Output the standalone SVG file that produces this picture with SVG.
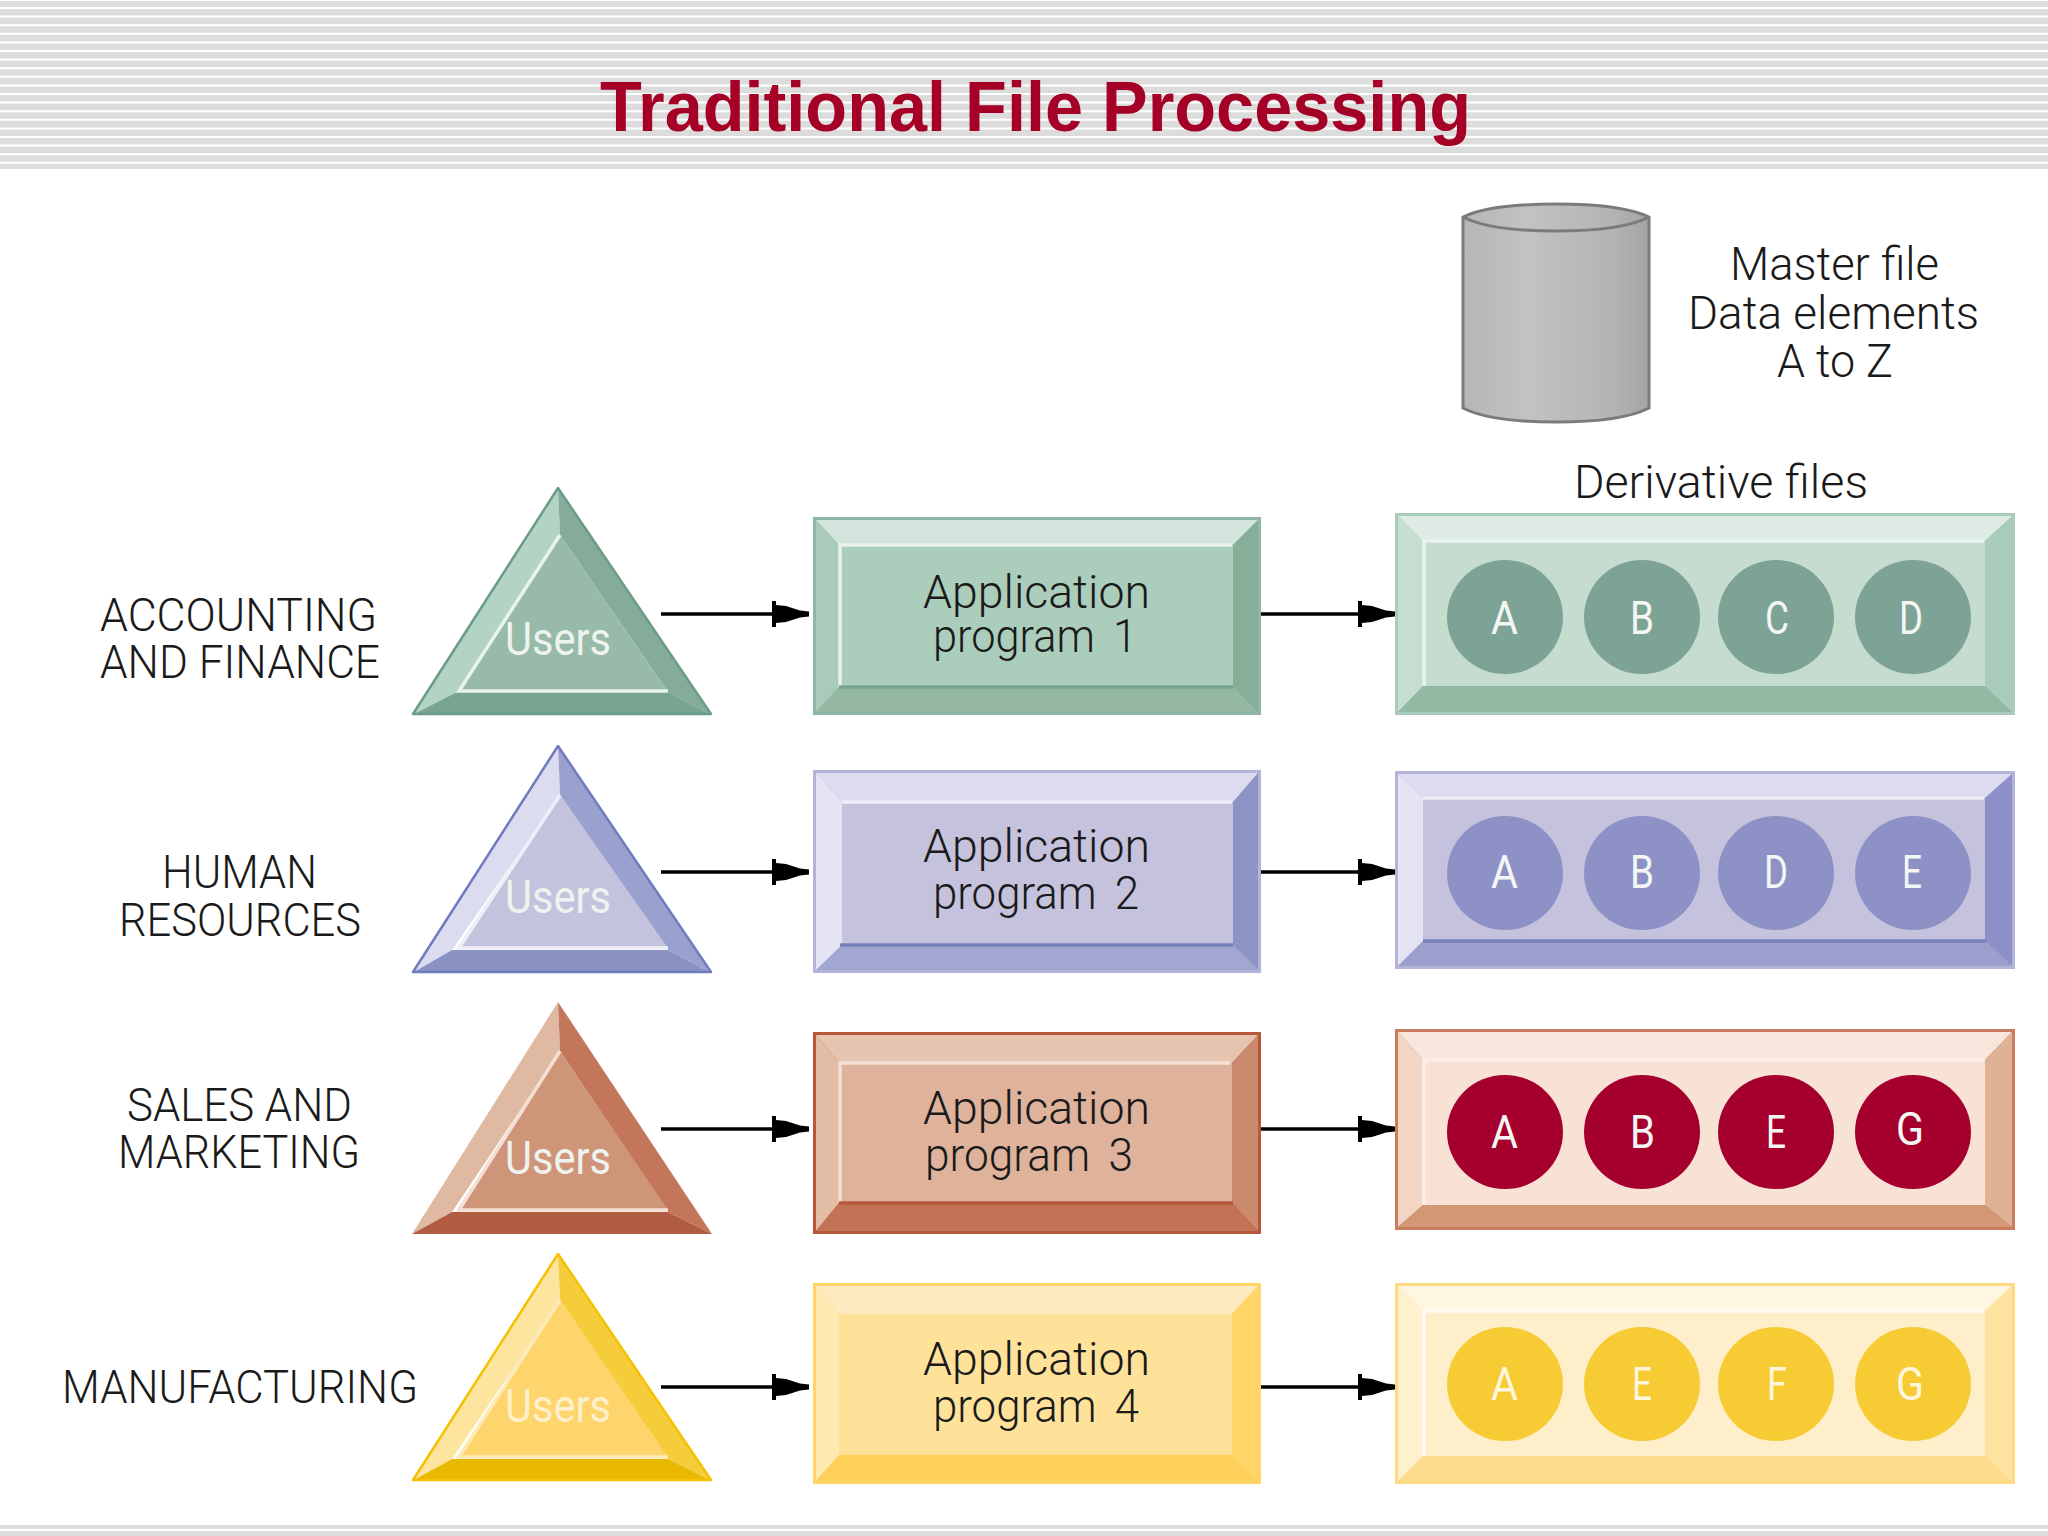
<svg xmlns="http://www.w3.org/2000/svg" width="2048" height="1536" viewBox="0 0 2048 1536">
<style>
text{font-family:"Roboto","Liberation Sans",sans-serif;font-weight:300;font-size:47px;fill:#1a1a1a}
.title{font-family:"Liberation Sans",Arial,sans-serif;font-weight:700;font-size:70px;fill:#a50026}
.u{fill:#eef3ef;font-weight:400}
.c{fill:#f4f6f4;font-weight:400}
.p{word-spacing:8px}
.green .e{fill:#8fb8a4}.green .tp{fill:#d2e4dc}.green .l{fill:#a9cbb9}.green .r{fill:#86ae98}.green .b{fill:#94b8a4}.green .m{fill:#abcdbb}
.green .hi{stroke:#e8f2ee}.green .sh{stroke:#78a490}
.green.f .tp{fill:#dfece5}.green.f .l{fill:#c6ddd0}.green.f .r{fill:#a8ccb9}.green.f .b{fill:#93b9a5}.green.f .m{fill:#c6dccf}.green.f .e{fill:#a8ccb9}.green.f .o{fill:#7ca395}.green.f .sh{stroke:#93b9a5}
.green .tl{fill:#b3d3c5}.green .tr{fill:#84ac98}.green .tb{fill:#78a490}.green .tm{fill:#98baa8}.green .te{stroke:#6c9c88}
.blue .e{fill:#b4b3d9}.blue .tp{fill:#dcdbef}.blue .l{fill:#e4e4f5}.blue .r{fill:#8d93c4}.blue .b{fill:#a1a7d0}.blue .m{fill:#c4c2dd}
.blue .hi{stroke:#eeeef8}.blue .sh{stroke:#7680bd}
.blue.f .b{fill:#9a9fcd}.blue.f .r{fill:#8d90c6}.blue.f .o{fill:#8d91c5}
.blue .tl{fill:#dcdcf0}.blue .tr{fill:#9aa1cf}.blue .tb{fill:#8a92c4}.blue .tm{fill:#c4c3dd}.blue .te{stroke:#6f7cc0}
.brown .e{fill:#b5583c}.brown .tp{fill:#e5c5b0}.brown .l{fill:#e3bca5}.brown .r{fill:#cb8a6d}.brown .b{fill:#c27355}.brown .m{fill:#deb29b}
.brown .hi{stroke:#f5dfd5}.brown .sh{stroke:#b5583c}
.brown.f .e{fill:#c97d5e}.brown.f .tp{fill:#f7e6dc}.brown.f .l{fill:#f3d5c4}.brown.f .r{fill:#dfb295}.brown.f .b{fill:#d39775}.brown.f .m{fill:#f8e2d6}.brown.f .o{fill:#a5002d}.brown.f .hi{stroke:#fbeee7}.brown.f .sh{stroke:#d39775}
.brown .tl{fill:#e0b9a2}.brown .tr{fill:#c4765a}.brown .tb{fill:#b15c40}.brown .tm{fill:#cf9578}.brown .te{stroke:#c4765a}
.yellow .e{fill:#fed566}.yellow .tp{fill:#feeac0}.yellow .l{fill:#fee9b0}.yellow .r{fill:#fed566}.yellow .b{fill:#fed05a}.yellow .m{fill:#fee29a}
.yellow .hi{stroke:#feeab8}.yellow .sh{stroke:#fed05a}
.yellow.f .e{fill:#fedb80}.yellow.f .tp{fill:#fff6e2}.yellow.f .l{fill:#fff0cf}.yellow.f .r{fill:#fee2a0}.yellow.f .b{fill:#fedc8d}.yellow.f .m{fill:#feefca}.yellow.f .o{fill:#f6cb33}.yellow.f .hi{stroke:#fffbf2}.yellow.f .sh{stroke:#fedc8d}
.yellow .tl{fill:#fde5a0}.yellow .tr{fill:#f5cd3a}.yellow .tb{fill:#e9b800}.yellow .tm{fill:#fdd56c}.yellow .te{stroke:#f4c200}
.hi,.sh{fill:none;stroke-width:3.5}
.te{fill:none;stroke-width:2.5;stroke-linejoin:round}
.conn{stroke:#000;stroke-width:3.5;fill:none;marker-end:url(#head)}
</style>
<defs>
<marker id="head" markerUnits="userSpaceOnUse" markerWidth="37" markerHeight="26" viewBox="0 0 37 26" refX="37" refY="13" orient="auto" overflow="visible">
<polygon points="0,0 4,0 4,4 14,5 28,9.5 37,10.5 37,15.5 28,16.5 14,21 4,22 4,26 0,26" fill="#000"/>
</marker>
<linearGradient id="cyl" x1="0" x2="1" y1="0" y2="0">
<stop offset="0" stop-color="#b6b6b6"/><stop offset="0.35" stop-color="#c2c2c2"/><stop offset="0.8" stop-color="#b4b4b4"/><stop offset="1" stop-color="#a4a4a4"/>
</linearGradient>
</defs>
<rect width="2048" height="1536" fill="#fff"/>

<g id="header">
<rect x="0" y="1" width="2048" height="168" fill="#dcdcdc"/>
<path d="M0 8H2048M0 16.6H2048M0 25.2H2048M0 33.8H2048M0 42.4H2048M0 51H2048M0 59.6H2048M0 68.2H2048M0 76.8H2048M0 85.4H2048M0 94H2048M0 102.6H2048M0 111.2H2048M0 119.8H2048M0 128.4H2048M0 137H2048M0 145.6H2048M0 154.2H2048M0 162.8H2048" stroke="#fff" stroke-width="2" fill="none"/>
<rect x="0" y="1525" width="2048" height="11" fill="#dedede"/>
<rect x="0" y="1529" width="2048" height="2" fill="#fff"/>
<text class="title" x="600" y="131" textLength="871" lengthAdjust="spacingAndGlyphs">Traditional File Processing</text>
</g>

<g id="connectors">
<line class="conn" x1="661" y1="614" x2="809" y2="614"/>
<line class="conn" x1="1261" y1="614" x2="1395" y2="614"/>
<line class="conn" x1="661" y1="872" x2="809" y2="872"/>
<line class="conn" x1="1261" y1="872" x2="1395" y2="872"/>
<line class="conn" x1="661" y1="1129" x2="809" y2="1129"/>
<line class="conn" x1="1261" y1="1129" x2="1395" y2="1129"/>
<line class="conn" x1="661" y1="1387" x2="809" y2="1387"/>
<line class="conn" x1="1261" y1="1387" x2="1395" y2="1387"/>
</g>

<g id="master-file">
<path d="M1463 217 V408 Q1490 422 1556 422 Q1622 422 1649 408 V217 Q1622 204 1556 204 Q1490 204 1463 217Z" fill="url(#cyl)" stroke="#7b7b7b" stroke-width="3"/>
<path d="M1463 217 Q1490 231 1556 231 Q1622 231 1649 217" fill="none" stroke="#7b7b7b" stroke-width="3"/>
<text x="1730" y="280" textLength="209" lengthAdjust="spacingAndGlyphs">Master file</text>
<text x="1688" y="329" textLength="291" lengthAdjust="spacingAndGlyphs">Data elements</text>
<text x="1777" y="377" textLength="116" lengthAdjust="spacingAndGlyphs">A to Z</text>
</g>
<text id="derivative-label" x="1574" y="498" textLength="294" lengthAdjust="spacingAndGlyphs">Derivative files</text>

<g id="label-accounting">
<text x="100" y="631" textLength="277" lengthAdjust="spacingAndGlyphs">ACCOUNTING</text>
<text x="100" y="678" textLength="280" lengthAdjust="spacingAndGlyphs">AND FINANCE</text>
</g>
<g id="label-hr">
<text x="162" y="888" textLength="155" lengthAdjust="spacingAndGlyphs">HUMAN</text>
<text x="119" y="936" textLength="242" lengthAdjust="spacingAndGlyphs">RESOURCES</text>
</g>
<g id="label-sales">
<text x="127" y="1121" textLength="225" lengthAdjust="spacingAndGlyphs">SALES AND</text>
<text x="118" y="1168" textLength="242" lengthAdjust="spacingAndGlyphs">MARKETING</text>
</g>
<g id="label-mfg">
<text x="62" y="1403" textLength="356" lengthAdjust="spacingAndGlyphs">MANUFACTURING</text>
</g>

<g id="users-1" class="green">
<polygon class="tl" points="558,487 412,715 457,692 560,535"/>
<polygon class="tr" points="558,487 560,535 668,692 712,715"/>
<polygon class="tb" points="412,715 457,692 668,692 712,715"/>
<polygon class="tm" points="560,535 457,692 668,692"/>
<polyline class="hi" points="560,535 459,691 668,691"/>
<polygon class="te" points="558,488 413,714 711,714"/>
<text class="u" x="505" y="655" textLength="106" lengthAdjust="spacingAndGlyphs">Users</text>
</g>
<g id="users-2" class="blue">
<polygon class="tl" points="558,745 412,973 452,950 560,795"/>
<polygon class="tr" points="558,745 560,795 668,950 712,973"/>
<polygon class="tb" points="412,973 452,950 668,950 712,973"/>
<polygon class="tm" points="560,795 457,948 668,948"/>
<polyline class="hi" points="560,795 459,948 668,948"/>
<polygon class="te" points="558,746 413,972 711,972"/>
<text class="u" x="505" y="913" textLength="106" lengthAdjust="spacingAndGlyphs">Users</text>
</g>
<g id="users-3" class="brown">
<polygon class="tl" points="558,1002 412,1234 452,1212 560,1051"/>
<polygon class="tr" points="558,1002 560,1051 668,1212 712,1234"/>
<polygon class="tb" points="412,1234 452,1212 668,1212 712,1234"/>
<polygon class="tm" points="560,1051 457,1210 668,1210"/>
<polyline class="hi" points="560,1051 459,1210 668,1210"/>
<text class="u" x="505" y="1174" textLength="106" lengthAdjust="spacingAndGlyphs">Users</text>
</g>
<g id="users-4" class="yellow">
<polygon class="tl" points="558,1253 412,1481 452,1459 560,1300"/>
<polygon class="tr" points="558,1253 560,1300 668,1459 712,1481"/>
<polygon class="tb" points="412,1481 452,1459 668,1459 712,1481"/>
<polygon class="tm" points="560,1300 457,1457 668,1457"/>
<polyline class="hi" points="560,1300 459,1457 668,1457"/>
<polygon class="te" points="558,1254 413,1480 711,1480"/>
<text class="u" x="505" y="1422" textLength="106" lengthAdjust="spacingAndGlyphs" style="fill:#fff0cc">Users</text>
</g>

<g id="app-1" class="green">
<rect class="e" x="813" y="517" width="448" height="198"/>
<polygon class="tp" points="816,520 1258,520 1233,545 839,545"/>
<polygon class="l" points="816,520 839,545 839,687 816,712"/>
<polygon class="r" points="1258,520 1258,712 1233,687 1233,545"/>
<polygon class="b" points="816,712 839,687 1233,687 1258,712"/>
<rect class="m" x="839" y="545" width="394" height="142"/>
<polyline class="hi" points="840,687 840,545 1232,545"/>
<line class="sh" x1="839" y1="687" x2="1233" y2="687"/>
<text x="923" y="608" textLength="227" lengthAdjust="spacingAndGlyphs">Application</text>
<text class="p" x="933" y="652" textLength="204" lengthAdjust="spacingAndGlyphs">program 1</text>
</g>
<g id="app-2" class="blue">
<rect class="e" x="813" y="770" width="448" height="203"/>
<polygon class="tp" points="816,773 1258,773 1233,802 842,802"/>
<polygon class="l" points="816,773 842,802 842,945 816,970"/>
<polygon class="r" points="1258,773 1258,970 1233,945 1233,802"/>
<polygon class="b" points="816,970 842,945 1233,945 1258,970"/>
<rect class="m" x="842" y="802" width="391" height="143"/>
<line class="hi" x1="842" y1="802" x2="1232" y2="802"/>
<line class="sh" x1="840" y1="945" x2="1233" y2="945"/>
<text x="923" y="862" textLength="227" lengthAdjust="spacingAndGlyphs">Application</text>
<text class="p" x="933" y="909" textLength="206" lengthAdjust="spacingAndGlyphs">program 2</text>
</g>
<g id="app-3" class="brown">
<rect class="e" x="813" y="1032" width="448" height="202"/>
<polygon class="tp" points="816,1035 1258,1035 1232,1063 839,1063"/>
<polygon class="l" points="816,1035 839,1063 839,1203 816,1231"/>
<polygon class="r" points="1258,1035 1258,1231 1232,1203 1232,1063"/>
<polygon class="b" points="816,1231 839,1203 1232,1203 1258,1231"/>
<rect class="m" x="839" y="1063" width="393" height="140"/>
<polyline class="hi" points="840,1202 840,1063 1230,1063"/>
<line class="sh" x1="839" y1="1203" x2="1233" y2="1203"/>
<text x="923" y="1124" textLength="227" lengthAdjust="spacingAndGlyphs">Application</text>
<text class="p" x="925" y="1171" textLength="208" lengthAdjust="spacingAndGlyphs">program 3</text>
</g>
<g id="app-4" class="yellow">
<rect class="e" x="813" y="1283" width="448" height="201"/>
<polygon class="tp" points="816,1286 1258,1286 1232,1314 839,1314"/>
<polygon class="l" points="816,1286 839,1314 839,1455 816,1481"/>
<polygon class="r" points="1258,1286 1258,1481 1232,1455 1232,1314"/>
<polygon class="b" points="816,1481 839,1455 1232,1455 1258,1481"/>
<rect class="m" x="839" y="1314" width="393" height="141"/>
<text x="923" y="1375" textLength="227" lengthAdjust="spacingAndGlyphs">Application</text>
<text class="p" x="933" y="1422" textLength="206" lengthAdjust="spacingAndGlyphs">program 4</text>
</g>

<g id="files-1" class="green f">
<rect class="e" x="1395" y="513" width="620" height="202"/>
<polygon class="tp" points="1398,516 2012,516 1985,541 1423,541"/>
<polygon class="l" points="1398,516 1423,541 1423,686 1398,712"/>
<polygon class="r" points="2012,516 2012,712 1985,686 1985,541"/>
<polygon class="b" points="1398,712 1423,686 1985,686 2012,712"/>
<rect class="m" x="1423" y="541" width="562" height="145"/>
<polyline class="hi" points="1424,686 1424,541 1984,541"/>
<ellipse class="o" cx="1505" cy="617" rx="58" ry="57"/><ellipse class="o" cx="1642" cy="617" rx="58" ry="57"/><ellipse class="o" cx="1776" cy="617" rx="58" ry="57"/><ellipse class="o" cx="1913" cy="617" rx="58" ry="57"/>
<text class="c" x="1491" y="634" textLength="27" lengthAdjust="spacingAndGlyphs">A</text>
<text class="c" x="1630" y="634" textLength="24" lengthAdjust="spacingAndGlyphs">B</text>
<text class="c" x="1765" y="634" textLength="24" lengthAdjust="spacingAndGlyphs">C</text>
<text class="c" x="1899" y="634" textLength="24" lengthAdjust="spacingAndGlyphs">D</text>
</g>
<g id="files-2" class="blue f">
<rect class="e" x="1395" y="771" width="620" height="198"/>
<polygon class="tp" points="1398,774 2012,774 1985,798 1423,798"/>
<polygon class="l" points="1398,774 1423,798 1423,941 1398,966"/>
<polygon class="r" points="2012,774 2012,966 1985,941 1985,798"/>
<polygon class="b" points="1398,966 1423,941 1985,941 2012,966"/>
<rect class="m" x="1423" y="798" width="562" height="143"/>
<line class="hi" x1="1423" y1="798" x2="1984" y2="798"/>
<line class="sh" x1="1423" y1="941" x2="1986" y2="941"/>
<ellipse class="o" cx="1505" cy="873" rx="58" ry="57"/><ellipse class="o" cx="1642" cy="873" rx="58" ry="57"/><ellipse class="o" cx="1776" cy="873" rx="58" ry="57"/><ellipse class="o" cx="1913" cy="873" rx="58" ry="57"/>
<text class="c" x="1491" y="888" textLength="27" lengthAdjust="spacingAndGlyphs">A</text>
<text class="c" x="1630" y="888" textLength="24" lengthAdjust="spacingAndGlyphs">B</text>
<text class="c" x="1764" y="888" textLength="24" lengthAdjust="spacingAndGlyphs">D</text>
<text class="c" x="1902" y="888" textLength="20" lengthAdjust="spacingAndGlyphs">E</text>
</g>
<g id="files-3" class="brown f">
<rect class="e" x="1395" y="1029" width="620" height="201"/>
<polygon class="tp" points="1398,1032 2012,1032 1985,1060 1423,1060"/>
<polygon class="l" points="1398,1032 1423,1060 1423,1205 1398,1227"/>
<polygon class="r" points="2012,1032 2012,1227 1985,1205 1985,1060"/>
<polygon class="b" points="1398,1227 1423,1205 1985,1205 2012,1227"/>
<rect class="m" x="1423" y="1060" width="562" height="145"/>
<polyline class="hi" points="1424,1205 1424,1060 1984,1060"/>
<ellipse class="o" cx="1505" cy="1132" rx="58" ry="57"/><ellipse class="o" cx="1642" cy="1132" rx="58" ry="57"/><ellipse class="o" cx="1776" cy="1132" rx="58" ry="57"/><ellipse class="o" cx="1913" cy="1132" rx="58" ry="57"/>
<text class="c" x="1491" y="1148" textLength="27" lengthAdjust="spacingAndGlyphs">A</text>
<text class="c" x="1630" y="1148" textLength="25" lengthAdjust="spacingAndGlyphs">B</text>
<text class="c" x="1766" y="1148" textLength="20" lengthAdjust="spacingAndGlyphs">E</text>
<text class="c" x="1896" y="1145" textLength="28" lengthAdjust="spacingAndGlyphs">G</text>
</g>
<g id="files-4" class="yellow f">
<rect class="e" x="1395" y="1283" width="620" height="201"/>
<polygon class="tp" points="1398,1286 2012,1286 1985,1311 1423,1311"/>
<polygon class="l" points="1398,1286 1423,1311 1423,1456 1398,1481"/>
<polygon class="r" points="2012,1286 2012,1481 1985,1456 1985,1311"/>
<polygon class="b" points="1398,1481 1423,1456 1985,1456 2012,1481"/>
<rect class="m" x="1423" y="1311" width="562" height="145"/>
<polyline class="hi" points="1424,1456 1424,1311 1984,1311"/>
<ellipse class="o" cx="1505" cy="1384" rx="58" ry="57"/><ellipse class="o" cx="1642" cy="1384" rx="58" ry="57"/><ellipse class="o" cx="1776" cy="1384" rx="58" ry="57"/><ellipse class="o" cx="1913" cy="1384" rx="58" ry="57"/>
<text class="c" x="1491" y="1400" textLength="27" lengthAdjust="spacingAndGlyphs" style="fill:#fff6dc">A</text>
<text class="c" x="1632" y="1400" textLength="20" lengthAdjust="spacingAndGlyphs" style="fill:#fff6dc">E</text>
<text class="c" x="1767" y="1400" textLength="20" lengthAdjust="spacingAndGlyphs" style="fill:#fff6dc">F</text>
<text class="c" x="1896" y="1400" textLength="28" lengthAdjust="spacingAndGlyphs" style="fill:#fff6dc">G</text>
</g>
</svg>
